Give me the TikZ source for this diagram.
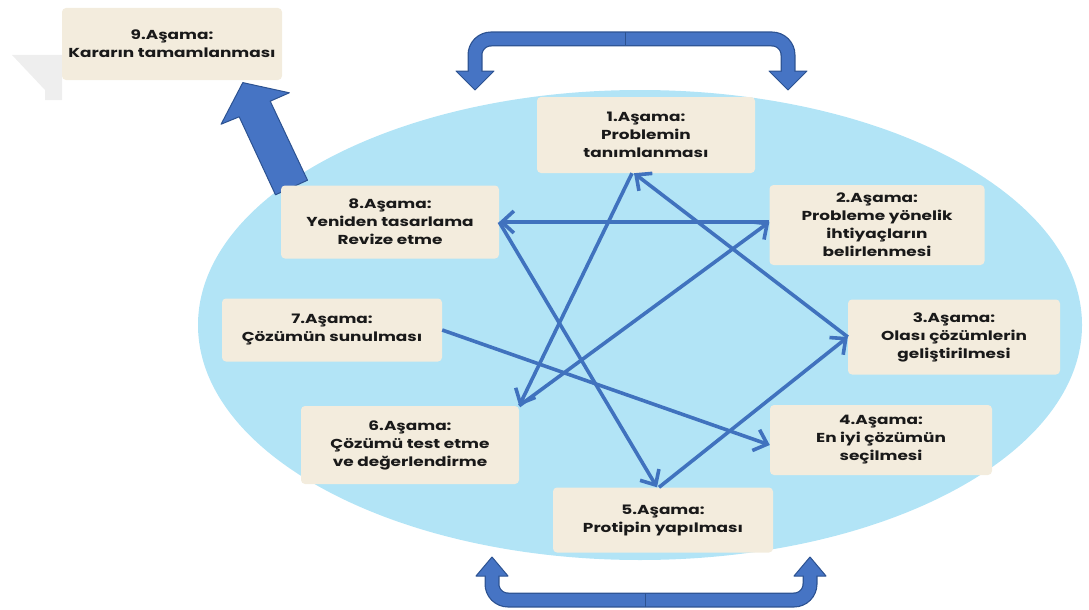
\documentclass[tikz,border=0pt]{standalone}
\usepackage{fontspec}
\setmainfont{Poppins}[FakeStretch=1.3]
\usetikzlibrary{arrows.meta}
\definecolor{ellfill}{RGB}{178,228,246}
\definecolor{boxfill}{RGB}{243,236,221}
\definecolor{starblue}{RGB}{64,114,190}
\definecolor{bigblue}{RGB}{70,116,196}
\definecolor{bigedge}{RGB}{44,82,145}
\definecolor{txt}{RGB}{25,25,25}
\definecolor{pagegray}{RGB}{238,238,238}
\begin{document}
\begin{tikzpicture}[x=1pt,y=-1pt,
  stage/.style={fill=boxfill, rounded corners=4pt, inner sep=0pt, align=center,
    font=\fontsize{13}{18}\selectfont\bfseries, text=txt},
  link/.style={draw=starblue, line width=3.6pt, -{Straight Barb[length=12pt,width=22pt]}},
  headstyle/.style={fill=bigblue, draw=bigedge, line width=1pt, line join=round},
  bracketedge/.style={draw=bigedge, line width=15pt, rounded corners=16pt},
  bracketfill/.style={draw=bigblue, line width=12.5pt, rounded corners=16pt},
]
\useasboundingbox (0,0) rectangle (1089,610);
\fill[pagegray] (12,55) -- (62,55) -- (62,100) -- (45,100) -- (45,90) -- cycle;

% ellipse
\fill[ellfill] (640,325) ellipse [x radius=442, y radius=235];

% top bracket arrow
\draw[bracketedge] (475,71) |- (631,39) -| (788,71);
\draw[headstyle] (456,71) -- (494,71) -- (475,90) -- cycle;
\draw[headstyle] (769,71) -- (807,71) -- (788,90) -- cycle;
\draw[bracketfill] (475,73) |- (631,39) -| (788,73);
\draw[bigedge, line width=0.8pt] (625,32.5) -- (625,45.5);

% bottom bracket arrow
\draw[bracketedge] (492,576) |- (645,600) -| (810,576);
\draw[headstyle] (476,576) -- (508,576) -- (492,557) -- cycle;
\draw[headstyle] (794,576) -- (826,576) -- (810,557) -- cycle;
\draw[bracketfill] (492,574) |- (645,600) -| (810,574);
\draw[bigedge, line width=0.8pt] (645,593) -- (645,607);

% big arrow 8 -> 9
\draw[headstyle] (307.5,180.2) -- (270.2,101.2) -- (289.3,92.8) -- (242.8,82.6)
  -- (221.1,124.2) -- (239.2,116.8) -- (275.5,194.8) -- cycle;

% boxes
\node[stage, minimum width=220pt, minimum height=72pt] (b9) at (172,44) {9.Aşama:\\Kararın tamamlanması};
\node[stage, minimum width=218pt, minimum height=76pt] (b1) at (646,135) {1.Aşama:\\Problemin\\tanımlanması};
\node[stage, minimum width=215pt, minimum height=80pt] (b2) at (877,225) {2.Aşama:\\Probleme yönelik\\ihtiyaçların\\belirlenmesi};
\node[stage, minimum width=212pt, minimum height=75pt] (b3) at (954,337) {3.Aşama:\\Olası çözümlerin\\geliştirilmesi};
\node[stage, minimum width=222pt, minimum height=70pt] (b4) at (881,440) {4.Aşama:\\En iyi çözümün\\seçilmesi};
\node[stage, minimum width=220pt, minimum height=65pt] (b5) at (663,520) {5.Aşama:\\Protipin yapılması};
\node[stage, minimum width=218pt, minimum height=78pt] (b6) at (410,445) {6.Aşama:\\Çözümü test etme\\ve değerlendirme};
\node[stage, minimum width=220pt, minimum height=63pt] (b7) at (332,330) {7.Aşama:\\Çözümün sunulması};
\node[stage, minimum width=218pt, minimum height=73pt] (b8) at (390,222) {8.Aşama:\\Yeniden tasarlama\\Revize etme};

% star connectors
\draw[link] ([yshift=3pt]b2.west) -- (b8.east);
\draw[link] (b8.east) -- ([xshift=-6pt]b5.north);
\draw[link] ([xshift=-14pt]b1.south) -- (b6.north east);
\draw[link] (b6.north east) -- ([yshift=3pt]b2.west);
\draw[link] (b3.west) -- ([xshift=-12pt]b1.south);
\draw[link] ([xshift=-4pt]b5.north) -- (b3.west);
\draw[link] (b7.east) -- ([yshift=-5pt]b4.west);
\end{tikzpicture}
\end{document}
